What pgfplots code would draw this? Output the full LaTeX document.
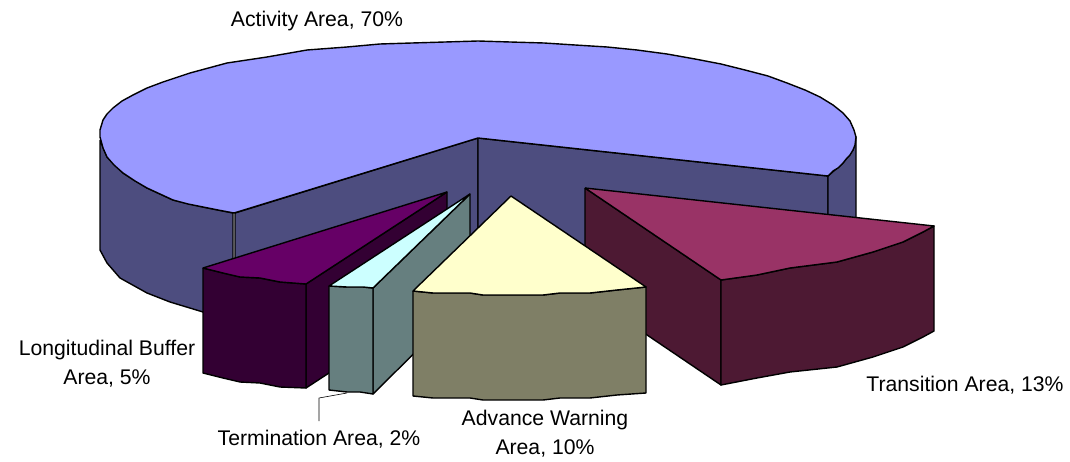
\documentclass[border=0pt]{standalone}
\usepackage{pgfplots}
\pgfplotsset{compat=1.18}
\usepackage{fontspec}
\setmainfont{Liberation Sans}
\definecolor{activity}{RGB}{153,153,255}
\definecolor{activityside}{RGB}{77,77,127}
\definecolor{transition}{RGB}{153,51,102}
\definecolor{transitionside}{RGB}{77,25,51}
\definecolor{warning}{RGB}{255,255,204}
\definecolor{warningside}{RGB}{127,127,102}
\definecolor{termination}{RGB}{204,255,255}
\definecolor{terminationside}{RGB}{102,127,127}
\definecolor{buffer}{RGB}{102,0,102}
\definecolor{bufferside}{RGB}{51,0,51}

\begin{document}
\begin{tikzpicture}
\begin{axis}[
    scale only axis,
    width=1070pt, height=462pt,
    xmin=0, xmax=1070,
    ymin=0, ymax=462,
    y dir=reverse,
    hide axis,
    clip=false,
    every axis plot/.append style={draw=black, line width=1.4pt, line join=round, mark=none},
    nodes={font=\fontsize{21.2}{29}\selectfont, align=center, inner sep=0pt},
]
% keeps the page as large as the axis, hide axis draws no box
\path (axis cs:0,0) rectangle (axis cs:1070,462);

% activity area, 70%: walls first, then the top
\addplot[fill=activityside] coordinates {(100,140) (107,157) (123,173) (147,188) (173,200) (203,207) (233,213)
    (233,325) (203,312) (170,302) (147,293) (120,278) (107,263) (100,250) (100,140)};
\addplot[fill=activityside] coordinates {(478,138) (235,213) (235,325) (478,243) (478,138)};
\addplot[fill=activityside] coordinates {(478,138) (828,176) (828,281) (478,243) (478,138)};
\addplot[fill=activityside] coordinates {(828,176) (843,163) (853,150) (856,137) (856,242) (853,255) (843,268) (828,281) (828,176)};
\addplot[fill=activity] coordinates {(478,138) (828,176) (833,171) (838,168) (843,163) (847,158) (850,155) (853,150) (855,145) (856,137)
    (854,130) (850,121) (843,113) (833,105) (820,97) (805,90) (787,83) (768,76) (745,70) (721,64) (695,59) (667,54) (637,50) (607,47) (575,45) (544,43) (510,42) (478,41)
    (445,42) (412,43) (380,44) (347,47) (307,50) (267,57) (227,63) (190,73) (163,82) (147,88) (133,95) (122,101) (113,108) (107,114) (103,120) (100,130) (100,137)
    (103,148) (107,157) (114,165) (123,173) (135,181) (147,188) (160,194) (173,200) (188,204) (203,207) (218,210) (234,213) (478,138)};

% longitudinal buffer area, 5%
\addplot[fill=bufferside] coordinates {(306,284) (447,192) (447,296) (306,388) (306,284)};
\addplot[fill=bufferside] coordinates {(203,268) (223,273) (240,277) (260,278) (280,282) (306,284)
    (306,388) (280,387) (260,383) (240,382) (223,378) (203,373) (203,268)};
\addplot[fill=buffer] coordinates {(447,192) (203,268) (223,273) (240,277) (260,278) (280,282) (306,284) (447,192)};

% termination area, 2%
\addplot[fill=terminationside] coordinates {(373,288) (470,194) (470,298) (373,394) (373,288)};
\addplot[fill=terminationside] coordinates {(329,286) (347,287) (363,287) (373,288)
    (373,394) (360,392) (347,392) (329,390) (329,286)};
\addplot[fill=termination] coordinates {(470,194) (329,286) (347,287) (363,287) (373,288) (470,194)};

% transition area, 13%
\addplot[fill=transitionside] coordinates {(585,188) (721,280) (721,385) (585,293) (585,188)};
\addplot[fill=transitionside] coordinates {(721,280) (757,275) (790,268) (837,262) (873,252) (903,242) (923,232) (934,226)
    (934,331) (923,337) (903,347) (873,357) (837,367) (790,372) (757,378) (721,385) (721,280)};
\addplot[fill=transition] coordinates {(585,188) (934,226) (923,232) (903,242) (873,252) (837,262) (790,268) (757,275) (721,280) (585,188)};

% advance warning area, 10%
\addplot[fill=warningside] coordinates {(413,291) (433,293) (470,293) (483,295) (543,295) (560,293) (590,293) (617,290) (646,287)
    (646,393) (617,395) (590,398) (560,398) (543,400) (483,400) (470,398) (433,398) (413,396) (413,291)};
\addplot[fill=warning] coordinates {(511,196) (413,291) (433,293) (470,293) (483,295) (543,295) (560,293) (590,293) (617,290) (646,287) (511,196)};

% leader line of the termination label
\addplot[line width=0.6pt] coordinates {(347,393) (319,398) (319,421)};

\node at (axis cs:317,21) {Activity Area, 70\%};
\node at (axis cs:107,364) {Longitudinal Buffer\\Area, 5\%};
\node at (axis cs:319,439) {Termination Area, 2\%};
\node at (axis cs:545,434) {Advance Warning\\Area, 10\%};
\node at (axis cs:965,385) {Transition Area, 13\%};
\end{axis}
\end{tikzpicture}
\end{document}
